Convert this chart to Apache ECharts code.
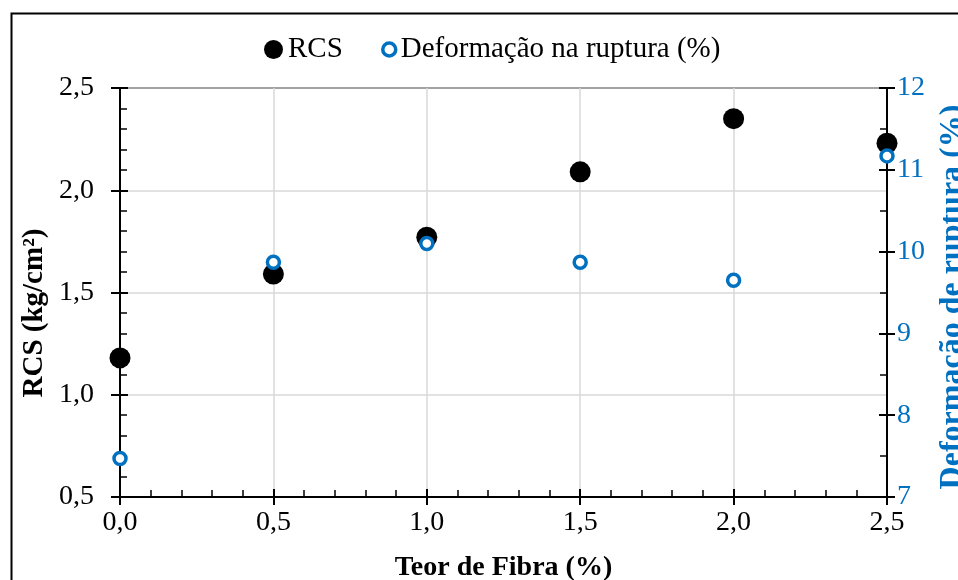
<!DOCTYPE html>
<html>
<head>
<meta charset="utf-8">
<script src="https://cdn.jsdelivr.net/npm/echarts@6/dist/echarts.min.js"></script>
<style>
html,body{margin:0;padding:0;background:#fff;}
#chart{width:958px;height:580px;}
</style>
</head>
<body>
<div id="chart"></div>
<script>
// Data
var teorFibra = [0.0, 0.5, 1.0, 1.5, 2.0, 2.5];
var rcs = [1.18, 1.59, 1.77, 2.09, 2.35, 2.23];
var deformacao = [7.47, 9.87, 10.1, 9.87, 9.65, 11.17];
var seriesNames = ['RCS', 'Deformação na ruptura (%)'];
var xTitle = 'Teor de Fibra (%)';
var yLeftTitle = 'RCS (kg/cm²)';
var yRightTitle = 'Deformação de ruptura (%)';

var FONT = '"Liberation Serif", "Times New Roman", serif';
var BLUE = '#0070C0';
var fmt1 = function (v) { return v.toFixed(1).replace('.', ','); };

var chart = echarts.init(document.getElementById('chart'), null, {renderer: 'canvas'});
var option = {
  animation: false,
  backgroundColor: '#fff',
  grid: {left: 120, right: 71, top: 88, bottom: 83, outerBoundsMode: 'none', containLabel: false,
         show: true, borderColor: '#000', borderWidth: 2, backgroundColor: 'transparent'},
  legend: [
    {data: [{name: seriesNames[0], icon: 'circle', itemStyle: {color: '#000', opacity: 1}}],
     left: 264, top: 35, padding: 0, itemWidth: 19, itemHeight: 19,
     textStyle: {fontFamily: FONT, fontSize: 29, color: '#000'}},
    {data: [{name: seriesNames[1], icon: 'circle', itemStyle: {color: '#fff', borderColor: BLUE, borderWidth: 3.5, opacity: 1}}],
     left: 381, top: 35, padding: 0, itemWidth: 13, itemHeight: 13,
     textStyle: {fontFamily: FONT, fontSize: 29, color: '#000'}}
  ],
  xAxis: [
    {type: 'value', min: 0, max: 2.5, interval: 0.5, position: 'bottom',
     name: xTitle, nameLocation: 'middle', nameGap: 57,
     nameTextStyle: {fontFamily: FONT, fontSize: 28, fontWeight: 'bold', color: '#000'},
     axisLine: {show: true, onZero: false, lineStyle: {color: '#000', width: 2}},
     axisTick: {show: true, inside: false, length: 8, lineStyle: {color: '#000', width: 2}},
     axisLabel: {fontFamily: FONT, fontSize: 28, color: '#000', margin: 12, formatter: fmt1},
     splitLine: {show: true, lineStyle: {color: '#d9d9d9', width: 1.5}}},
    {type: 'value', min: 0, max: 2.5, interval: 0.5, position: 'bottom',
     axisLine: {show: false, onZero: false},
     axisTick: {show: true, inside: true, length: 8, lineStyle: {color: '#000', width: 2}},
     minorTick: {show: true, splitNumber: 5, length: 7, lineStyle: {color: '#000', width: 1.5}},
     axisLabel: {show: false}, splitLine: {show: false}}
  ],
  yAxis: [
    {type: 'value', min: 0.5, max: 2.5, interval: 0.5, position: 'left',
     axisLine: {show: true, onZero: false, lineStyle: {color: '#000', width: 2}},
     axisTick: {show: true, inside: false, length: 9, lineStyle: {color: '#000', width: 2}},
     axisLabel: {fontFamily: FONT, fontSize: 28, color: '#000', margin: 26, formatter: fmt1},
     splitLine: {show: true, lineStyle: {color: '#d9d9d9', width: 1.5}}},
    {type: 'value', min: 7, max: 12, interval: 1, position: 'right',
     axisLine: {show: true, onZero: false, lineStyle: {color: '#000', width: 2}},
     axisTick: {show: true, inside: false, length: 8, lineStyle: {color: '#000', width: 2}},
     axisLabel: {fontFamily: FONT, fontSize: 28, color: BLUE, margin: 10},
     splitLine: {show: false}},
    {type: 'value', min: 0.5, max: 2.5, interval: 0.5, position: 'left',
     axisLine: {show: false, onZero: false},
     axisTick: {show: true, inside: true, length: 8, lineStyle: {color: '#000', width: 2}},
     minorTick: {show: true, splitNumber: 5, length: 7, lineStyle: {color: '#000', width: 1.5}},
     axisLabel: {show: false}, splitLine: {show: false}},
    {type: 'value', min: 7, max: 12, interval: 1, position: 'right',
     axisLine: {show: false, onZero: false},
     axisTick: {show: true, inside: true, length: 8, lineStyle: {color: '#000', width: 2}},
     minorTick: {show: true, splitNumber: 2, length: 7, lineStyle: {color: '#000', width: 1.5}},
     axisLabel: {show: false}, splitLine: {show: false}}
  ],
  graphic: [
    {type: 'rect', left: 9, top: 11, z: -10, silent: true,
     shape: {width: 1200, height: 1200}, style: {fill: 'none', stroke: '#000', lineWidth: 2}},
    {type: 'text', x: 35, y: 313, rotation: Math.PI / 2, silent: true,
     style: {text: yLeftTitle, fontFamily: FONT, fontSize: 29, fontWeight: 'bold', fill: '#000',
             align: 'center', verticalAlign: 'middle'}},
    {type: 'text', x: 953, y: 297, rotation: Math.PI / 2, silent: true,
     style: {text: yRightTitle, fontFamily: FONT, fontSize: 32, fontWeight: 'bold', fill: BLUE,
             align: 'center', verticalAlign: 'middle'}}
  ],
  series: [
    {name: seriesNames[0], type: 'scatter', xAxisIndex: 0, yAxisIndex: 0, symbol: 'circle', symbolSize: 21,
     itemStyle: {color: '#000', opacity: 1}, z: 3,
     data: teorFibra.map(function (x, i) { return [x, rcs[i]]; })},
    {name: seriesNames[1], type: 'scatter', xAxisIndex: 0, yAxisIndex: 1, symbol: 'circle', symbolSize: 12,
     itemStyle: {color: '#fff', borderColor: BLUE, borderWidth: 3.5, opacity: 1}, z: 4,
     data: teorFibra.map(function (x, i) { return [x, deformacao[i]]; })}
  ]
};
chart.setOption(option);
</script>
</body>
</html>
